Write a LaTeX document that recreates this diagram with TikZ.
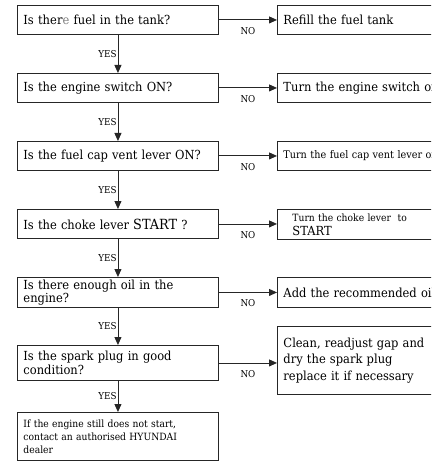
\documentclass[tikz,border=0pt]{standalone}
\usepackage{fontspec}
\setmainfont{DejaVu Serif}[FakeStretch=0.92]
\usetikzlibrary{arrows.meta}
\newcommand\mainf{\fontsize{12.5}{14}\selectfont}
\newcommand\smallf{\fontsize{10}{13}\selectfont}
\newcommand\labf{\fontsize{9.5}{10}\selectfont}
\newcommand\bigstart{{\fontsize{14}{14}\selectfont START}}
\begin{document}
\begin{tikzpicture}[x=1pt,y=-1pt,
  box/.style={draw=black!85, line width=0.9pt, anchor=north west, align=left,
    inner xsep=6pt, inner ysep=1pt, font=\mainf},
  lbox/.style={box, text width=189pt, minimum width=201pt},
  rbox/.style={box, text width=190pt, minimum width=202pt},
  arr/.style={draw=black!85, line width=0.9pt, -{Triangle[length=8pt,width=7pt]}},
  yes/.style={font=\labf, inner sep=1pt, anchor=east, pos=0.5},
  no/.style={font=\labf, inner sep=1pt, anchor=north, midway, yshift=-6pt},
]
\useasboundingbox (0,0) rectangle (431,462);
\clip (0,0) rectangle (431,462);

% left column
\node[lbox, minimum height=29pt] (b1) at (17,5) {Is the\kern0.3pt r\textcolor{black!50}{e} fuel in the tank?};
\node[lbox, minimum height=29pt] (b2) at (17,73) {Is the engine switch ON?};
\node[lbox, minimum height=29pt] (b3) at (17,141) {Is the fuel cap vent lever ON?};
\node[lbox, minimum height=29pt] (b4) at (17,209) {Is the choke lever \bigstart\ ?};
\node[lbox, minimum height=30pt, font=\fontsize{12.5}{13.5}\selectfont] (b5) at (17,277) {Is there enough oil in the\\engine?};
\node[lbox, minimum height=35pt, font=\fontsize{12.5}{13.5}\selectfont] (b6) at (17,345) {Is the spark plug in good\\condition?};
\node[lbox, minimum height=48pt, font=\smallf] (b7) at (17,412) {If the engine still does not start,\\contact an authorised HYUNDAI\\dealer};

% right column
\node[rbox, minimum height=29pt] (r1) at (277,5) {Refill the fuel tank};
\node[rbox, minimum height=29pt] (r2) at (277,73) {Turn the engine switch on};
\node[rbox, minimum height=29pt, font=\fontsize{10.5}{11}\selectfont] (r3) at (277,141) {Turn the fuel cap vent lever\ on};
\node[rbox, minimum height=30pt, inner xsep=15pt, inner ysep=0pt, text width=172pt, font=\fontsize{10}{12}\selectfont] (r4) at (277,209) {\strut Turn the choke lever\ \ to\\{\fontsize{12.5}{12}\selectfont START}};
\node[rbox, minimum height=30pt] (r5) at (277,277) {Add the recommended oil};
\node[rbox, minimum height=68pt, font=\fontsize{12.5}{16.5}\selectfont] (r6) at (277,326) {Clean, readjust gap and\\dry the spark plug\\replace it if necessary};

% YES arrows
\draw[arr] (b1.south) -- (b2.north) node[yes] {YES};
\draw[arr] (b2.south) -- (b3.north) node[yes] {YES};
\draw[arr] (b3.south) -- (b4.north) node[yes] {YES};
\draw[arr] (b4.south) -- (b5.north) node[yes] {YES};
\draw[arr] (b5.south) -- (b6.north) node[yes] {YES};
\draw[arr] (b6.south) -- (b7.north) node[yes] {YES};

% NO arrows
\draw[arr] (b1.east) -- (b1.east -| r1.west) node[no] {NO};
\draw[arr] (b2.east) -- (b2.east -| r2.west) node[no] {NO};
\draw[arr] (b3.east) -- (b3.east -| r3.west) node[no] {NO};
\draw[arr] (b4.east) -- (b4.east -| r4.west) node[no] {NO};
\draw[arr] (b5.east) -- (b5.east -| r5.west) node[no] {NO};
\draw[arr] (b6.east) -- (b6.east -| r6.west) node[no] {NO};
\end{tikzpicture}
\end{document}
